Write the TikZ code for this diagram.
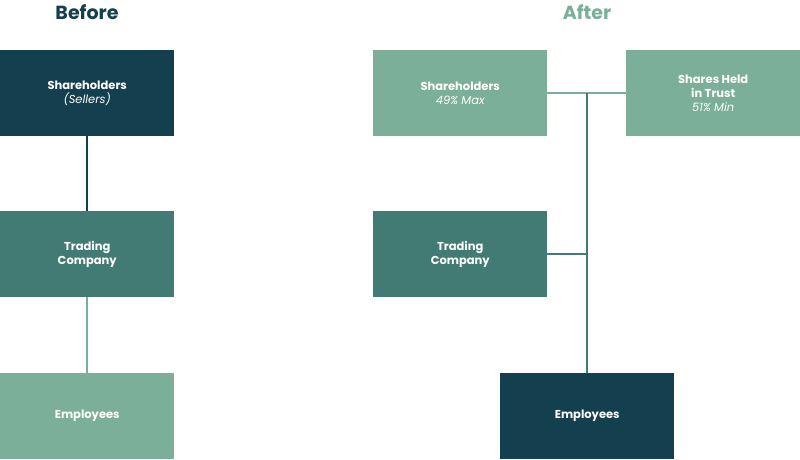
\documentclass[tikz,border=0pt]{standalone}
\usepackage{fontspec}
\setmainfont{Poppins}
\definecolor{dk}{HTML}{143F4E}
\definecolor{md}{HTML}{427B74}
\definecolor{lt}{HTML}{7BAF9A}
\begin{document}
\begin{tikzpicture}[x=1pt,y=1pt,
  bx/.style={minimum width=174pt,minimum height=86pt,inner sep=0pt,text=white,align=center,font=\fontsize{11.5}{14}\selectfont\bfseries,anchor=north west},
  ttl/.style={font=\fontsize{19}{22}\selectfont\bfseries},
  ln/.style={line width=2.5pt}]
\useasboundingbox (0,0) rectangle (800,-459);
\node[ttl,text=dk] (tb) at (87,-12) {Before};
\node[ttl,text=lt] (ta) at (587,-12) {After};
\node[bx,fill=dk] (s1) at (0,-50) {Shareholders\\{\mdseries\itshape(Sellers)}};
\node[bx,fill=md] (t1) at (0,-211) {Trading\\Company};
\node[bx,fill=lt] (e1) at (0,-373) {Employees};
\draw[ln,dk] (s1.south) -- (t1.north);
\draw[ln,lt] (t1.south) -- (e1.north);
\node[bx,fill=lt] (s2) at (373,-50) {Shareholders\\{\mdseries\itshape 49\% Max}};
\node[bx,fill=lt] (h2) at (626,-50) {Shares Held\\in Trust\\{\mdseries\itshape 51\% Min}};
\node[bx,fill=md] (t2) at (373,-211) {Trading\\Company};
\node[bx,fill=dk] (e2) at (500,-373) {Employees};
\coordinate (j) at (587,-93);
\draw[ln,lt] (s2.east) -- (h2.west);
\draw[ln,md] (t2.east) -- (t2.east -| j);
\draw[ln,md] (j) -- (e2.north -| j);
\end{tikzpicture}
\end{document}
